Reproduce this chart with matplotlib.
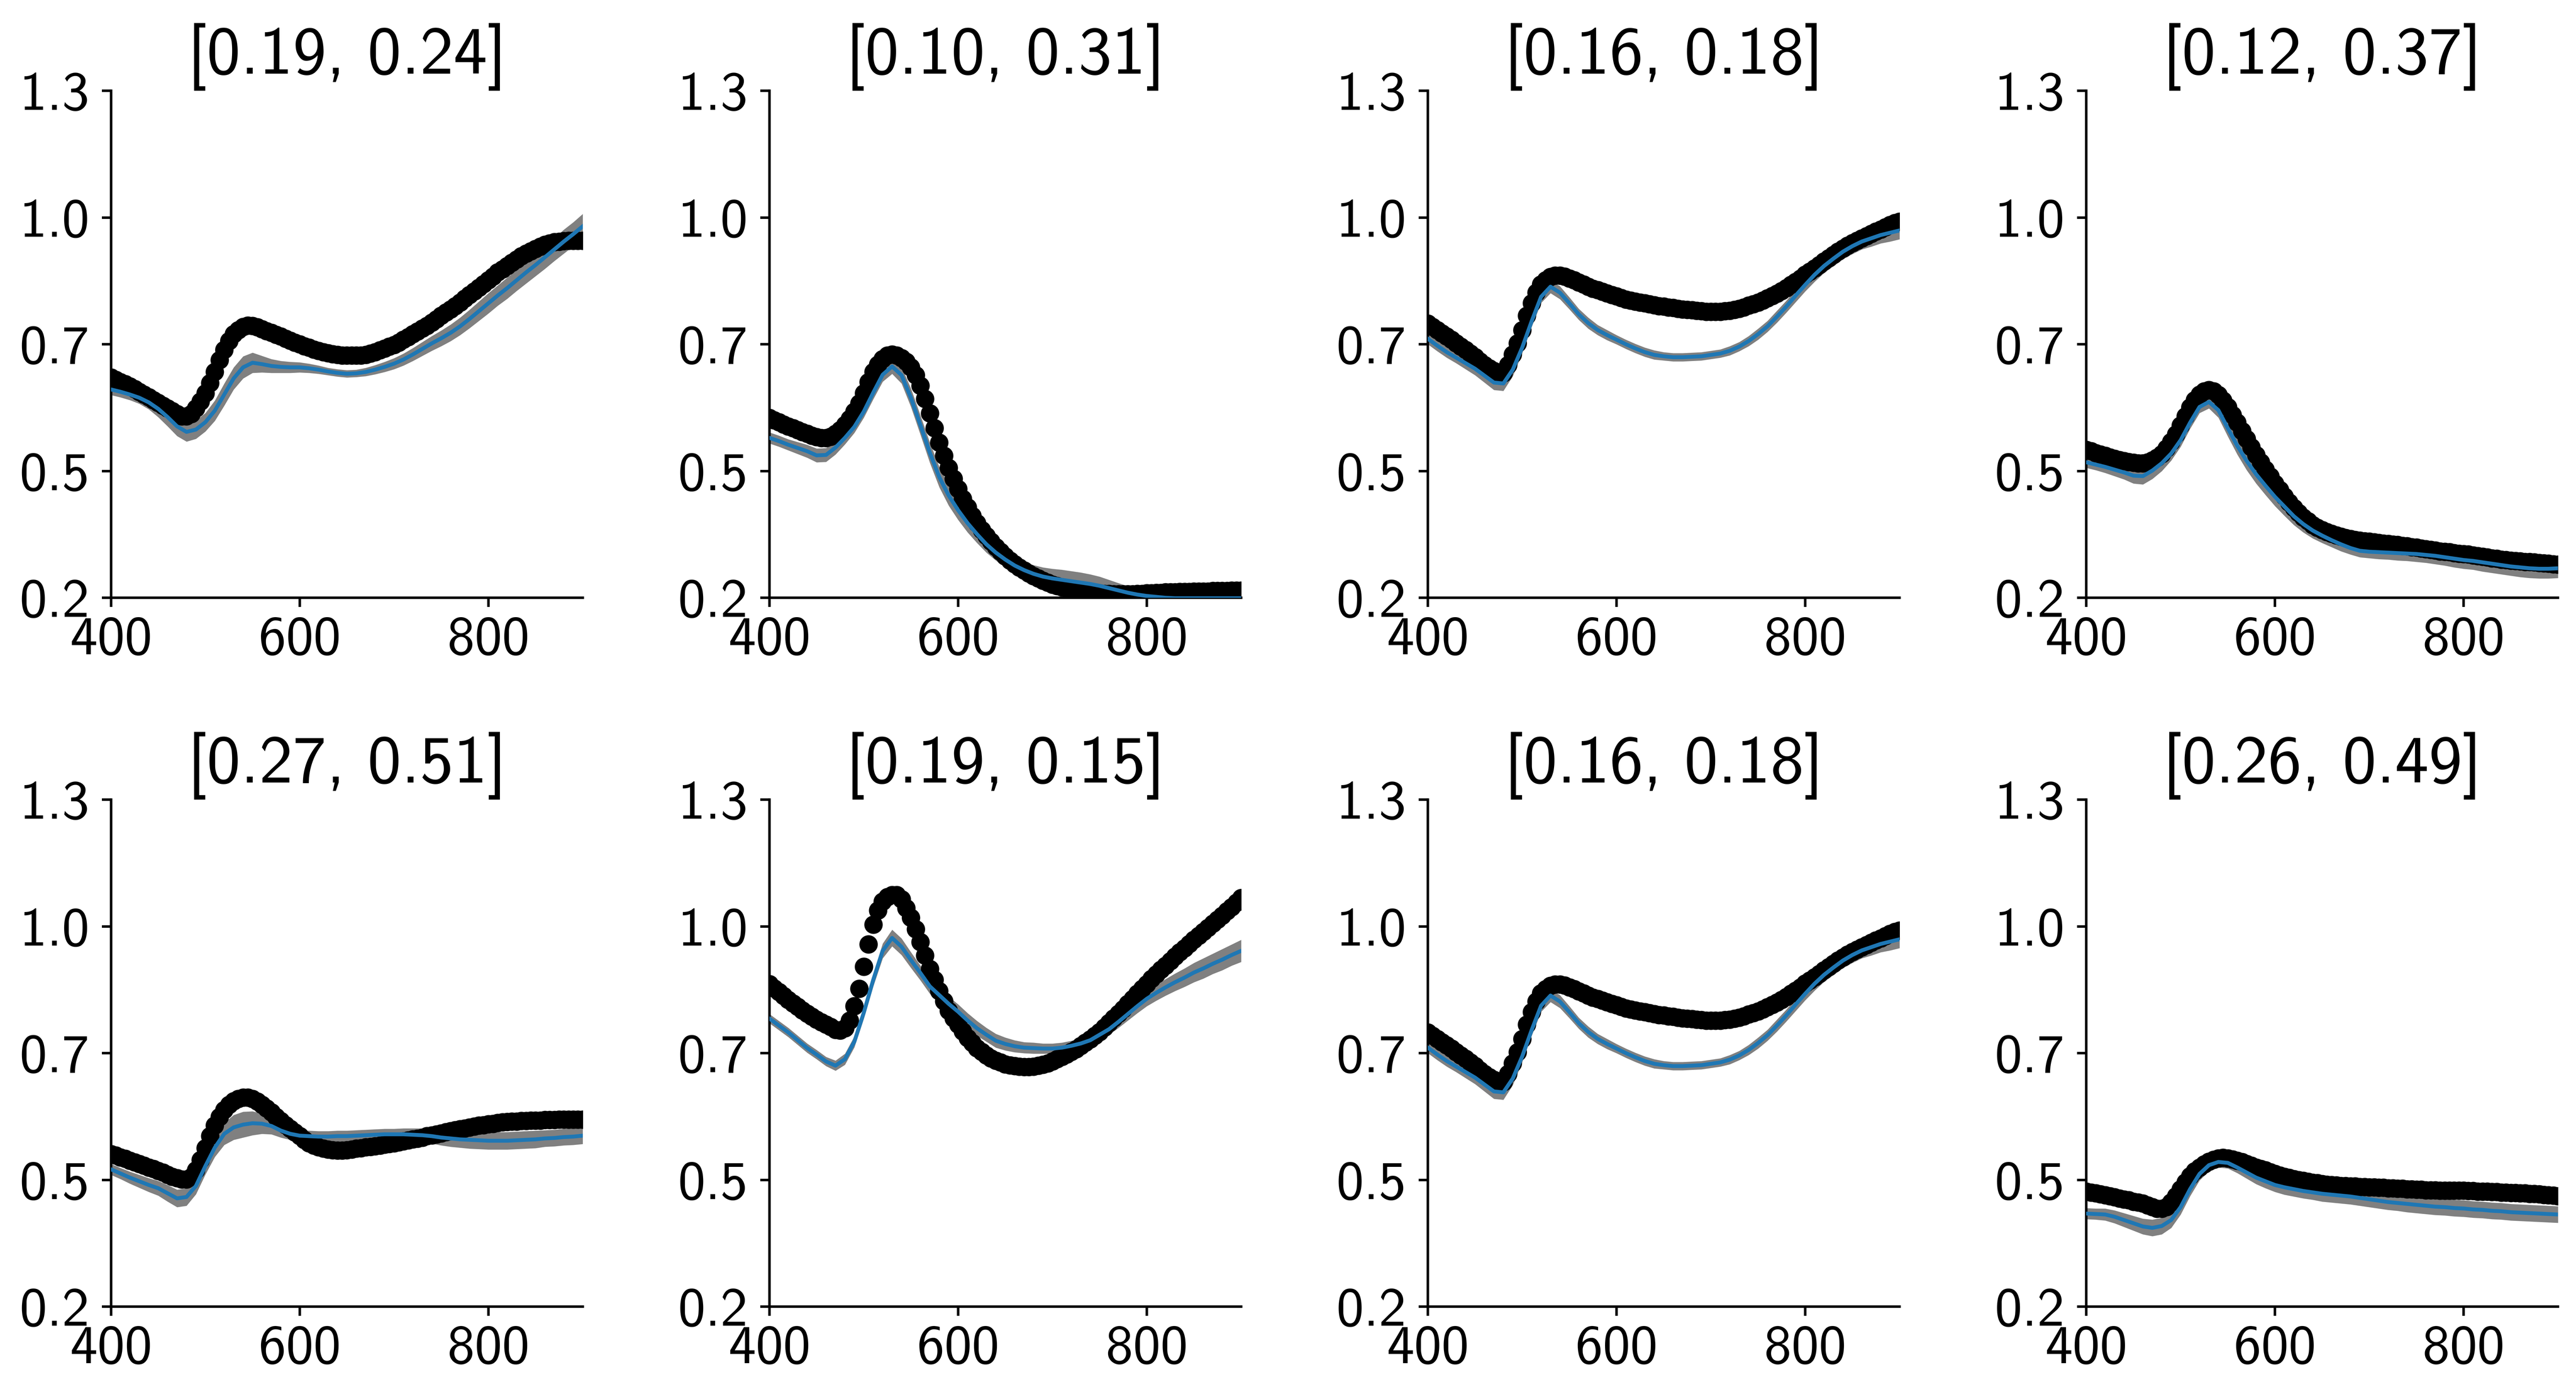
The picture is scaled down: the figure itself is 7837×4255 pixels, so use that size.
import numpy as np
import matplotlib
matplotlib.use("Agg")
import matplotlib.pyplot as plt

plt.rcParams["font.family"] = ["cmss10", "DejaVu Sans"]
plt.rcParams["axes.unicode_minus"] = False

# ── data ─────────────────────────────────────────────────────────────────────
# measured spectra (black dots) every 5 nm, model mean (blue) and spread (gray)
# every 10 nm, all read off the reference figure

WL_MEAS = np.arange(400, 905, 5)
WL_FIT = np.arange(400, 910, 10)

TITLES = ["[0.19, 0.24]", "[0.10, 0.31]", "[0.16, 0.18]", "[0.12, 0.37]",
          "[0.27, 0.51]", "[0.19, 0.15]", "[0.16, 0.18]", "[0.26, 0.49]"]

MEAS_A = [
    0.678, 0.673, 0.668, 0.664, 0.659, 0.653, 0.647, 0.641, 0.635, 0.629,
    0.623, 0.617, 0.611, 0.605, 0.599, 0.594, 0.594, 0.599, 0.611, 0.626,
    0.644, 0.666, 0.690, 0.716, 0.738, 0.757, 0.772, 0.781, 0.788, 0.791,
    0.790, 0.787, 0.783, 0.779, 0.775, 0.771, 0.767, 0.762, 0.758, 0.754,
    0.750, 0.746, 0.743, 0.739, 0.736, 0.733, 0.731, 0.729, 0.727, 0.726,
    0.726, 0.726, 0.726, 0.726, 0.727, 0.730, 0.733, 0.737, 0.741, 0.745,
    0.749, 0.754, 0.760, 0.766, 0.772, 0.778, 0.784, 0.790, 0.797, 0.804,
    0.812, 0.819, 0.826, 0.833, 0.841, 0.849, 0.857, 0.865, 0.873, 0.881,
    0.889, 0.897, 0.906, 0.913, 0.920, 0.927, 0.934, 0.941, 0.947, 0.952,
    0.957, 0.962, 0.966, 0.969, 0.972, 0.973, 0.974, 0.975, 0.975, 0.975,
    0.975]
FIT_A = [
    0.652, 0.647, 0.641, 0.634, 0.624, 0.610, 0.592, 0.572, 0.560, 0.565,
    0.581, 0.606, 0.641, 0.676, 0.700, 0.710, 0.707, 0.703, 0.701, 0.700,
    0.700, 0.698, 0.695, 0.691, 0.688, 0.686, 0.687, 0.690, 0.695, 0.701,
    0.708, 0.717, 0.728, 0.740, 0.752, 0.763, 0.775, 0.789, 0.805, 0.822,
    0.839, 0.856, 0.872, 0.889, 0.906, 0.922, 0.939, 0.956, 0.973, 0.989,
    1.006]
SD_A = [
    0.012, 0.012, 0.012, 0.013, 0.015, 0.018, 0.020, 0.021, 0.021, 0.020,
    0.020, 0.022, 0.024, 0.024, 0.024, 0.022, 0.018, 0.015, 0.013, 0.012,
    0.011, 0.010, 0.009, 0.008, 0.008, 0.008, 0.008, 0.009, 0.010, 0.011,
    0.012, 0.013, 0.014, 0.015, 0.016, 0.017, 0.018, 0.019, 0.020, 0.021,
    0.022, 0.022, 0.023, 0.023, 0.024, 0.024, 0.025, 0.025, 0.026, 0.026,
    0.027]

MEAS_B = [
    0.590, 0.585, 0.581, 0.576, 0.572, 0.568, 0.564, 0.560, 0.556, 0.552,
    0.549, 0.547, 0.547, 0.550, 0.556, 0.564, 0.575, 0.588, 0.604, 0.622,
    0.644, 0.668, 0.690, 0.706, 0.718, 0.726, 0.728, 0.726, 0.720, 0.712,
    0.700, 0.683, 0.660, 0.632, 0.600, 0.568, 0.537, 0.508, 0.482, 0.458,
    0.436, 0.415, 0.396, 0.378, 0.362, 0.347, 0.334, 0.322, 0.310, 0.300,
    0.290, 0.281, 0.273, 0.266, 0.259, 0.253, 0.247, 0.242, 0.237, 0.233,
    0.229, 0.226, 0.223, 0.221, 0.219, 0.217, 0.215, 0.213, 0.212, 0.211,
    0.210, 0.209, 0.209, 0.208, 0.208, 0.208, 0.208, 0.208, 0.209, 0.209,
    0.210, 0.210, 0.211, 0.211, 0.212, 0.212, 0.212, 0.213, 0.213, 0.213,
    0.214, 0.214, 0.214, 0.214, 0.215, 0.215, 0.215, 0.215, 0.216, 0.216,
    0.216]
FIT_B = [
    0.547, 0.540, 0.532, 0.525, 0.518, 0.509, 0.510, 0.526, 0.547, 0.571,
    0.604, 0.645, 0.684, 0.702, 0.683, 0.634, 0.575, 0.515, 0.462, 0.422,
    0.390, 0.362, 0.338, 0.316, 0.298, 0.283, 0.270, 0.260, 0.252, 0.246,
    0.242, 0.239, 0.236, 0.233, 0.230, 0.226, 0.221, 0.216, 0.211, 0.207,
    0.204, 0.202, 0.200, 0.199, 0.199, 0.199, 0.199, 0.199, 0.199, 0.199,
    0.199]
SD_B = [
    0.012, 0.012, 0.012, 0.013, 0.014, 0.015, 0.015, 0.015, 0.014, 0.013,
    0.013, 0.014, 0.015, 0.016, 0.018, 0.020, 0.021, 0.022, 0.022, 0.022,
    0.021, 0.020, 0.019, 0.018, 0.017, 0.017, 0.017, 0.018, 0.019, 0.020,
    0.021, 0.022, 0.022, 0.022, 0.021, 0.020, 0.018, 0.016, 0.014, 0.012,
    0.011, 0.010, 0.010, 0.010, 0.010, 0.010, 0.010, 0.010, 0.010, 0.010,
    0.010]

MEAS_C = [
    0.795, 0.788, 0.781, 0.774, 0.767, 0.760, 0.752, 0.745, 0.738, 0.730,
    0.722, 0.713, 0.705, 0.698, 0.692, 0.686, 0.687, 0.705, 0.728, 0.752,
    0.781, 0.812, 0.839, 0.862, 0.880, 0.889, 0.896, 0.899, 0.899, 0.897,
    0.893, 0.889, 0.884, 0.880, 0.875, 0.871, 0.868, 0.864, 0.861, 0.857,
    0.854, 0.851, 0.847, 0.845, 0.843, 0.841, 0.839, 0.837, 0.835, 0.833,
    0.832, 0.830, 0.829, 0.827, 0.826, 0.825, 0.824, 0.823, 0.822, 0.821,
    0.821, 0.821, 0.821, 0.822, 0.823, 0.825, 0.827, 0.830, 0.834, 0.837,
    0.841, 0.845, 0.850, 0.855, 0.860, 0.866, 0.872, 0.879, 0.886, 0.893,
    0.901, 0.908, 0.915, 0.922, 0.930, 0.937, 0.944, 0.951, 0.958, 0.964,
    0.970, 0.975, 0.980, 0.985, 0.990, 0.995, 0.999, 1.004, 1.009, 1.013,
    1.016]
FIT_C = [
    0.762, 0.747, 0.733, 0.721, 0.709, 0.697, 0.682, 0.667, 0.665, 0.695,
    0.743, 0.800, 0.853, 0.875, 0.862, 0.839, 0.815, 0.796, 0.781, 0.770,
    0.760, 0.750, 0.741, 0.733, 0.727, 0.724, 0.722, 0.722, 0.723, 0.724,
    0.727, 0.730, 0.736, 0.745, 0.757, 0.772, 0.789, 0.810, 0.832, 0.856,
    0.879, 0.901, 0.920, 0.936, 0.951, 0.963, 0.973, 0.980, 0.987, 0.992,
    0.997]
SD_C = [
    0.012, 0.012, 0.012, 0.012, 0.013, 0.014, 0.015, 0.016, 0.016, 0.014,
    0.012, 0.012, 0.013, 0.014, 0.014, 0.013, 0.012, 0.012, 0.011, 0.011,
    0.010, 0.010, 0.010, 0.010, 0.010, 0.009, 0.009, 0.009, 0.009, 0.009,
    0.009, 0.009, 0.010, 0.010, 0.011, 0.012, 0.012, 0.013, 0.013, 0.014,
    0.014, 0.015, 0.015, 0.016, 0.016, 0.017, 0.017, 0.018, 0.018, 0.019,
    0.019]

MEAS_D = [
    0.521, 0.518, 0.514, 0.511, 0.508, 0.505, 0.502, 0.499, 0.497, 0.495,
    0.493, 0.492, 0.492, 0.494, 0.498, 0.504, 0.512, 0.524, 0.538, 0.555,
    0.574, 0.594, 0.613, 0.629, 0.641, 0.648, 0.651, 0.648, 0.640, 0.628,
    0.614, 0.597, 0.580, 0.562, 0.545, 0.527, 0.510, 0.494, 0.478, 0.463,
    0.448, 0.434, 0.420, 0.407, 0.395, 0.384, 0.374, 0.366, 0.358, 0.352,
    0.347, 0.343, 0.339, 0.336, 0.333, 0.330, 0.328, 0.326, 0.324, 0.323,
    0.322, 0.321, 0.319, 0.318, 0.317, 0.316, 0.315, 0.313, 0.312, 0.310,
    0.309, 0.307, 0.306, 0.304, 0.303, 0.301, 0.300, 0.299, 0.297, 0.296,
    0.295, 0.294, 0.292, 0.291, 0.289, 0.288, 0.286, 0.285, 0.283, 0.282,
    0.281, 0.280, 0.279, 0.278, 0.278, 0.277, 0.276, 0.275, 0.274, 0.273,
    0.272]
FIT_D = [
    0.494, 0.489, 0.484, 0.478, 0.472, 0.465, 0.464, 0.476, 0.492, 0.513,
    0.542, 0.580, 0.614, 0.625, 0.607, 0.568, 0.530, 0.497, 0.468, 0.443,
    0.419, 0.398, 0.377, 0.360, 0.346, 0.335, 0.325, 0.316, 0.308, 0.302,
    0.300, 0.299, 0.298, 0.297, 0.296, 0.295, 0.293, 0.291, 0.288, 0.285,
    0.282, 0.280, 0.277, 0.274, 0.271, 0.268, 0.266, 0.264, 0.263, 0.263,
    0.264]
SD_D = [
    0.012, 0.012, 0.013, 0.014, 0.015, 0.017, 0.018, 0.018, 0.017, 0.015,
    0.014, 0.013, 0.013, 0.014, 0.016, 0.018, 0.019, 0.020, 0.020, 0.020,
    0.020, 0.020, 0.019, 0.018, 0.017, 0.016, 0.015, 0.015, 0.014, 0.014,
    0.014, 0.015, 0.015, 0.016, 0.016, 0.017, 0.017, 0.018, 0.018, 0.019,
    0.019, 0.019, 0.020, 0.020, 0.020, 0.020, 0.021, 0.021, 0.021, 0.021,
    0.021]

MEAS_E = [
    0.531, 0.528, 0.524, 0.521, 0.517, 0.513, 0.510, 0.506, 0.502, 0.499,
    0.495, 0.491, 0.486, 0.482, 0.479, 0.476, 0.476, 0.481, 0.496, 0.518,
    0.544, 0.570, 0.593, 0.612, 0.627, 0.638, 0.646, 0.651, 0.654, 0.654,
    0.651, 0.645, 0.638, 0.630, 0.622, 0.612, 0.603, 0.594, 0.586, 0.578,
    0.570, 0.562, 0.555, 0.550, 0.546, 0.543, 0.541, 0.540, 0.539, 0.539,
    0.540, 0.541, 0.543, 0.544, 0.546, 0.547, 0.548, 0.550, 0.552, 0.553,
    0.555, 0.557, 0.559, 0.561, 0.563, 0.565, 0.567, 0.570, 0.572, 0.574,
    0.576, 0.579, 0.581, 0.583, 0.585, 0.587, 0.589, 0.591, 0.593, 0.594,
    0.596, 0.597, 0.599, 0.600, 0.601, 0.602, 0.602, 0.603, 0.603, 0.604,
    0.604, 0.604, 0.605, 0.605, 0.605, 0.606, 0.606, 0.606, 0.606, 0.606,
    0.606]
FIT_E = [
    0.498, 0.489, 0.480, 0.472, 0.464, 0.457, 0.446, 0.435, 0.438, 0.462,
    0.505, 0.545, 0.575, 0.589, 0.595, 0.598, 0.597, 0.592, 0.582, 0.575,
    0.571, 0.570, 0.569, 0.569, 0.570, 0.570, 0.571, 0.572, 0.573, 0.574,
    0.574, 0.574, 0.573, 0.572, 0.570, 0.567, 0.565, 0.563, 0.562, 0.561,
    0.560, 0.560, 0.560, 0.561, 0.562, 0.563, 0.565, 0.566, 0.568, 0.569,
    0.571]
SD_E = [
    0.012, 0.012, 0.013, 0.014, 0.015, 0.016, 0.018, 0.019, 0.019, 0.018,
    0.018, 0.020, 0.024, 0.027, 0.028, 0.026, 0.022, 0.018, 0.015, 0.013,
    0.012, 0.012, 0.012, 0.012, 0.012, 0.012, 0.012, 0.012, 0.012, 0.012,
    0.012, 0.013, 0.014, 0.015, 0.016, 0.017, 0.018, 0.018, 0.019, 0.019,
    0.019, 0.019, 0.019, 0.019, 0.019, 0.019, 0.018, 0.018, 0.018, 0.018,
    0.018]

MEAS_F = [
    0.900, 0.891, 0.883, 0.874, 0.866, 0.858, 0.851, 0.843, 0.836, 0.829,
    0.823, 0.817, 0.812, 0.807, 0.801, 0.799, 0.804, 0.821, 0.852, 0.890,
    0.938, 0.986, 1.029, 1.060, 1.079, 1.089, 1.093, 1.093, 1.084, 1.065,
    1.044, 1.019, 0.991, 0.962, 0.933, 0.909, 0.885, 0.863, 0.842, 0.826,
    0.812, 0.797, 0.783, 0.772, 0.761, 0.753, 0.745, 0.739, 0.734, 0.730,
    0.726, 0.724, 0.722, 0.721, 0.720, 0.720, 0.721, 0.723, 0.725, 0.728,
    0.732, 0.737, 0.742, 0.747, 0.753, 0.759, 0.766, 0.773, 0.780, 0.788,
    0.796, 0.806, 0.816, 0.826, 0.836, 0.846, 0.857, 0.868, 0.879, 0.890,
    0.900, 0.911, 0.921, 0.931, 0.940, 0.950, 0.960, 0.969, 0.978, 0.987,
    0.996, 1.005, 1.013, 1.022, 1.031, 1.040, 1.048, 1.058, 1.067, 1.077,
    1.087]
FIT_F = [
    0.825, 0.810, 0.795, 0.778, 0.761, 0.747, 0.732, 0.723, 0.737, 0.775,
    0.838, 0.909, 0.972, 1.000, 0.981, 0.952, 0.924, 0.895, 0.876, 0.857,
    0.840, 0.821, 0.804, 0.790, 0.777, 0.770, 0.765, 0.762, 0.761, 0.760,
    0.760, 0.762, 0.766, 0.771, 0.778, 0.790, 0.802, 0.818, 0.835, 0.852,
    0.868, 0.881, 0.893, 0.904, 0.914, 0.925, 0.934, 0.944, 0.953, 0.963,
    0.972]
SD_F = [
    0.010, 0.010, 0.010, 0.010, 0.010, 0.010, 0.010, 0.011, 0.012, 0.012,
    0.013, 0.014, 0.016, 0.018, 0.018, 0.017, 0.016, 0.016, 0.016, 0.016,
    0.016, 0.016, 0.016, 0.015, 0.015, 0.014, 0.013, 0.012, 0.012, 0.011,
    0.011, 0.011, 0.011, 0.011, 0.011, 0.012, 0.012, 0.013, 0.014, 0.015,
    0.016, 0.017, 0.018, 0.019, 0.020, 0.021, 0.022, 0.022, 0.023, 0.023,
    0.024]

MEAS_H = [
    0.450, 0.448, 0.446, 0.444, 0.442, 0.440, 0.438, 0.435, 0.433, 0.431,
    0.428, 0.426, 0.424, 0.420, 0.416, 0.413, 0.413, 0.416, 0.426, 0.440,
    0.455, 0.470, 0.483, 0.494, 0.502, 0.509, 0.515, 0.519, 0.522, 0.523,
    0.522, 0.520, 0.517, 0.514, 0.510, 0.506, 0.502, 0.499, 0.496, 0.492,
    0.488, 0.485, 0.482, 0.480, 0.477, 0.475, 0.473, 0.471, 0.469, 0.468,
    0.466, 0.465, 0.464, 0.463, 0.462, 0.462, 0.461, 0.461, 0.460, 0.460,
    0.459, 0.459, 0.458, 0.458, 0.457, 0.457, 0.456, 0.456, 0.455, 0.455,
    0.454, 0.454, 0.453, 0.453, 0.453, 0.452, 0.452, 0.452, 0.452, 0.452,
    0.452, 0.451, 0.451, 0.450, 0.450, 0.450, 0.449, 0.449, 0.448, 0.448,
    0.447, 0.447, 0.446, 0.446, 0.445, 0.445, 0.444, 0.443, 0.442, 0.441,
    0.440]
FIT_H = [
    0.402, 0.401, 0.400, 0.395, 0.388, 0.381, 0.374, 0.371, 0.375, 0.388,
    0.416, 0.455, 0.488, 0.507, 0.514, 0.512, 0.502, 0.491, 0.480, 0.472,
    0.464, 0.459, 0.455, 0.451, 0.448, 0.445, 0.443, 0.441, 0.439, 0.436,
    0.433, 0.430, 0.427, 0.425, 0.423, 0.421, 0.419, 0.417, 0.416, 0.414,
    0.413, 0.411, 0.410, 0.408, 0.407, 0.405, 0.404, 0.403, 0.402, 0.401,
    0.400]
SD_H = [
    0.012, 0.012, 0.013, 0.014, 0.015, 0.016, 0.017, 0.018, 0.018, 0.017,
    0.016, 0.015, 0.014, 0.013, 0.012, 0.012, 0.012, 0.013, 0.014, 0.015,
    0.015, 0.016, 0.016, 0.016, 0.016, 0.017, 0.017, 0.017, 0.017, 0.017,
    0.017, 0.017, 0.017, 0.017, 0.018, 0.018, 0.018, 0.018, 0.018, 0.018,
    0.018, 0.018, 0.018, 0.018, 0.018, 0.018, 0.018, 0.018, 0.018, 0.018,
    0.018]

# panels 3 and 7 show the same sample
PANELS = [
    (MEAS_A, FIT_A, SD_A), (MEAS_B, FIT_B, SD_B),
    (MEAS_C, FIT_C, SD_C), (MEAS_D, FIT_D, SD_D),
    (MEAS_E, FIT_E, SD_E), (MEAS_F, FIT_F, SD_F),
    (MEAS_C, FIT_C, SD_C), (MEAS_H, FIT_H, SD_H),
]

Y_TICKS = np.linspace(0.2, 1.3, 5)
Y_TICKLABELS = ["0.2", "0.5", "0.7", "1.0", "1.3"]
X_TICKS = [400, 600, 800]

# ── figure ───────────────────────────────────────────────────────────────────

DPI = 500
fig = plt.figure(figsize=(7837 / DPI, 4255 / DPI), dpi=DPI)

left0, col_step, width = 0.0431, 0.2556, 0.1831
row_y0, height = [0.5727, 0.0660], 0.3624

for i, (title, (meas, fit, sd)) in enumerate(zip(TITLES, PANELS)):
    row, col = divmod(i, 4)
    ax = fig.add_axes([left0 + col * col_step, row_y0[row], width, height])

    fit = np.asarray(fit)
    sd = np.asarray(sd)
    ax.fill_between(WL_FIT, fit - sd, fit + sd, color="gray", lw=0, zorder=1)
    ax.scatter(WL_MEAS, meas, s=65, color="black", linewidths=0, zorder=2)
    ax.plot(WL_FIT, fit, color="#1f77b4", lw=1.7, zorder=3)

    ax.set_xlim(400, 900)
    ax.set_ylim(0.2, 1.3)
    ax.set_xticks(X_TICKS)
    ax.set_yticks(Y_TICKS)
    ax.set_yticklabels(Y_TICKLABELS)
    ax.set_title(title, fontsize=29.5, pad=7)

    for side in ("top", "right"):
        ax.spines[side].set_visible(False)
    for side in ("left", "bottom"):
        ax.spines[side].set_linewidth(1.1)
    ax.tick_params(axis="both", labelsize=24, length=4, width=1.1)
    ax.tick_params(axis="y", pad=5.5)
    ax.tick_params(axis="x", pad=4)

fig.savefig("out.png", dpi=DPI)
